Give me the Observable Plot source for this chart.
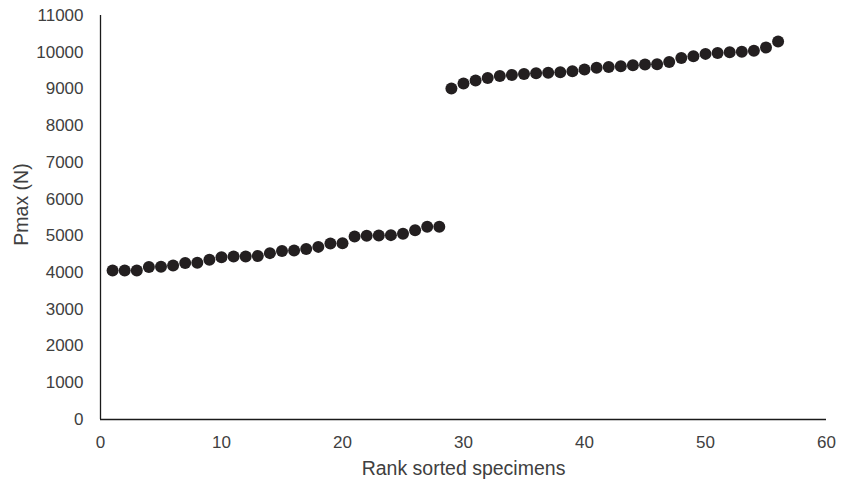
<!DOCTYPE html>
<html>
<head>
<meta charset="utf-8">
<script src="https://cdn.jsdelivr.net/npm/d3@7"></script>
<script src="https://cdn.jsdelivr.net/npm/@observablehq/plot@0.6"></script>
<style>
  html, body { margin: 0; padding: 0; background: #fff; }
</style>
</head>
<body>
<div id="chart"></div>
<script>
const ranks = [1,2,3,4,5,6,7,8,9,10,11,12,13,14,15,16,17,18,19,20,21,22,23,24,25,26,27,28,
               29,30,31,32,33,34,35,36,37,38,39,40,41,42,43,44,45,46,47,48,49,50,51,52,53,54,55,56];
const pmax = [4060,4060,4060,4150,4160,4190,4260,4270,4350,4420,4440,4440,4450,4530,4590,4600,4640,4700,4790,4800,4980,5000,5010,5020,5060,5150,5250,5250,
              9010,9150,9230,9300,9355,9380,9410,9430,9440,9455,9480,9530,9575,9600,9620,9645,9665,9670,9735,9845,9890,9955,9980,10000,10010,10040,10130,10290];
const xTicks = [0,10,20,30,40,50,60];
const yTicks = [0,1000,2000,3000,4000,5000,6000,7000,8000,9000,10000,11000];
const xTitle = "Rank sorted specimens";
const yTitle = "Pmax (N)";

const data = ranks.map((r, i) => ({rank: r, pmax: pmax[i]}));
const textColor = "#404040";

const chart = Plot.plot({
  width: 842,
  height: 484,
  marginLeft: 100,
  marginRight: 16,
  marginTop: 15,
  marginBottom: 65,
  style: {fontFamily: "'Liberation Sans', Arial, sans-serif", fontSize: "17px", background: "#fff"},
  x: {domain: [0, 60]},
  y: {domain: [0, 11000]},
  marks: [
    Plot.axisX({ticks: xTicks, tickSize: 0, tickPadding: 16, label: null, fill: textColor, fontSize: 17}),
    Plot.axisY({ticks: yTicks, tickSize: 0, tickPadding: 17, label: null, fill: textColor, fontSize: 17, tickFormat: d => String(d)}),
    Plot.ruleX([0], {stroke: "#1a1a1a", strokeWidth: 1.3}),
    Plot.ruleY([0], {stroke: "#1a1a1a", strokeWidth: 1.3}),
    Plot.dot(data, {x: "rank", y: "pmax", r: 6, fill: "#231f20", stroke: "none"}),
    Plot.text([xTitle], {frameAnchor: "bottom", lineAnchor: "middle", textAnchor: "middle", dy: 49, fill: textColor, fontSize: 19.5}),
    Plot.text([yTitle], {frameAnchor: "left", lineAnchor: "middle", textAnchor: "middle", dx: -78.5, dy: -13, rotate: -90, fill: textColor, fontSize: 19.5})
  ]
});
document.getElementById("chart").appendChild(chart);
</script>
</body>
</html>
